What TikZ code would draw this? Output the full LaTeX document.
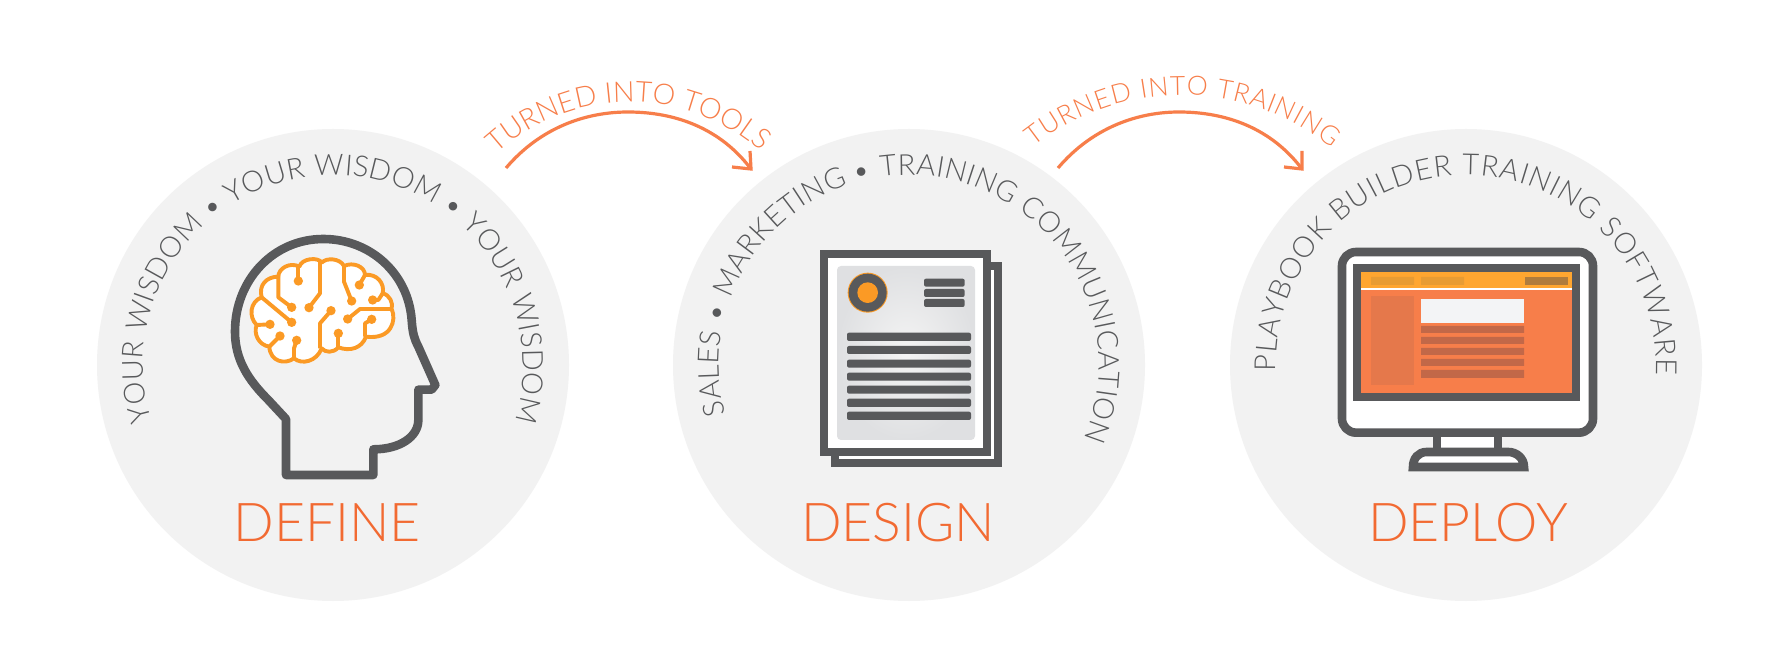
\documentclass[tikz,border=0pt]{standalone}
\usepackage{fontspec}
\usetikzlibrary{decorations.text}
\setmainfont{Lato Light}
\definecolor{dk}{HTML}{58595B}
\definecolor{pale}{HTML}{F2F2F2}
\definecolor{brainc}{HTML}{FB9A25}
\definecolor{arrowc}{HTML}{F77E4A}
\definecolor{titlec}{HTML}{F26A32}
\definecolor{panelin}{HTML}{F4F4F4}
\definecolor{panelout}{HTML}{DFE0E2}
\definecolor{topbar}{HTML}{FFA630}
\definecolor{topbtn}{HTML}{E89C33}
\definecolor{topdark}{HTML}{B07C3C}
\definecolor{sidep}{HTML}{E5784B}
\definecolor{whitep}{HTML}{F3F4F6}
\definecolor{rowc}{HTML}{C26848}
\tikzset{
  disc/.style={circle,fill=pale,minimum size=472pt,inner sep=0pt},
  title/.style={text=titlec,font=\fontsize{53.5}{54}\selectfont,inner sep=0pt},
  flow/.style={draw=arrowc,line width=3.2pt},
  headline/.style={draw=dk,line width=8.6pt,line join=round},
  trace/.style={draw=brainc,line width=3.9pt,line join=round},
}
\newcommand{\arctext}[8]{% cx cy r a1 a2 size colour text
  \path[decorate,decoration={text along path,text align={fit to path},
    text={|\fontsize{#6}{#6}\selectfont\color{#7}|#8}}]
    ({#1+#3*cos(#4)},{654-#2+#3*sin(#4)}) arc[start angle=#4,end angle=#5,radius=#3];}
\newcommand{\brect}[4]{\fill[dk,rounded corners=2pt] (#1,#2-1) rectangle (#3,#4+1);}
\newcommand{\dotat}[2]{\fill[brainc] (#1,#2) circle[radius=14];}
\begin{document}
\begin{tikzpicture}[x=1pt,y=1pt]
\useasboundingbox (0,0) rectangle (1788,654);
\fill[white] (0,0) rectangle (1788,654);
\node[disc] (define) at (333,289) {};
\node[disc] (design) at (909,289) {};
\node[disc] (deploy) at (1466,289) {};
\node[title] (t1) at (327,131) {DEFINE};
\node[title] (t2) at (898,131) {DESIGN};
\node[title] (t3) at (1468,131) {DEPLOY};
% circular text
\arctext{333}{365}{190}{197}{-17}{29}{dk}{YOUR WISDOM • YOUR WISDOM • YOUR WISDOM}
\arctext{909}{365}{190}{195}{-23}{29}{dk}{SALES • MARKETING • TRAINING COMMUNICATION}
\arctext{1466}{365}{190}{182}{-3}{29}{dk}{PLAYBOOK BUILDER TRAINING SOFTWARE}
\arctext{630}{299}{197}{132.5}{49}{28.5}{arrowc}{TURNED INTO TOOLS}
\arctext{1182}{333}{238}{128.5}{51}{26.5}{arrowc}{TURNED INTO TRAINING}
% arrows
\coordinate (a1s) at (506,486);
\coordinate (a1e) at (751,485);
\coordinate (a2s) at (1058,486);
\coordinate (a2e) at (1302,485);
\draw[flow] (a1s) .. controls (540,526) and (585,542) .. (628,542) .. controls (675,542) and (720,526) .. (a1e);
\draw[flow,line cap=butt] (732,487) -- (a1e) -- (750,503);
\draw[flow] (a2s) .. controls (1092,526) and (1137,542) .. (1179,542) .. controls (1226,542) and (1271,526) .. (a2e);
\draw[flow,line cap=butt] (1284,487) -- (a2e) -- (1302,503);
% head
\begin{scope}[shift={(210pt,434pt)},x=.33333pt,y=-.33333pt]
\draw[headline] (228,765) -- (228,597) -- (175,540) .. controls (115,480) and (75,420) .. (75,335)
  .. controls (75,180) and (190,57) .. (340,57) .. controls (480,57) and (595,160) .. (605,300)
  .. controls (608,340) and (612,355) .. (625,380) -- (676,495) -- (665,509) -- (625,509) -- (625,600)
  .. controls (625,650) and (570,688) .. (490,688) -- (490,765) -- cycle;
\filldraw[trace,fill=white] (155,232) .. controls (145,195) and (170,170) .. (205,170)
  .. controls (205,145) and (240,125) .. (268,140)
  .. controls (275,115) and (325,110) .. (335,128)
  .. controls (350,112) and (390,115) .. (402,138)
  .. controls (430,125) and (465,140) .. (465,165)
  .. controls (500,160) and (525,190) .. (518,220)
  .. controls (540,225) and (550,250) .. (545,267)
  .. controls (560,300) and (545,360) .. (468,350)
  .. controls (455,385) and (420,395) .. (385,382)
  .. controls (370,400) and (345,398) .. (335,385)
  .. controls (320,425) and (275,435) .. (252,415)
  .. controls (225,435) and (180,425) .. (178,380)
  .. controls (145,375) and (130,340) .. (140,315)
  .. controls (115,290) and (120,245) .. (155,232) -- cycle;
\draw[trace] (205,170) -- (205,232) -- (245,262);
\draw[trace] (265,140) -- (265,183);
\draw[trace] (330,125) -- (330,220) -- (297,263);
\draw[trace] (402,140) -- (402,185) -- (425,243);
\draw[trace] (465,165) -- (448,195);
\draw[trace] (518,220) -- (505,240) -- (488,240);
\draw[trace] (155,232) -- (245,307);
\draw[trace] (545,267) -- (450,267) -- (413,297);
\draw[trace] (363,272) -- (330,310) -- (330,385);
\draw[trace] (140,315) -- (180,313);
\draw[trace] (178,380) -- (210,348);
\draw[trace] (252,415) -- (252,385) -- (260,361);
\draw[trace] (385,340) -- (385,382);
\draw[trace] (485,298) -- (465,310) -- (465,350);
\dotat{245}{262}\dotat{265}{183}\dotat{297}{263}\dotat{425}{243}\dotat{448}{195}\dotat{488}{240}
\dotat{245}{307}\dotat{413}{297}\dotat{363}{272}\dotat{180}{313}\dotat{210}{348}\dotat{260}{361}
\dotat{385}{340}\dotat{485}{298}
\end{scope}
% document
\begin{scope}[shift={(800pt,414pt)},x=.33333pt,y=-.33333pt]
\draw[headline,line join=miter,fill=white] (105,78) rectangle (594,669);
\draw[headline,line join=miter,fill=white] (72,42) rectangle (561,636);
\shade[inner color=panelin,outer color=panelout,rounded corners=4pt] (111,78) rectangle (525,600);
\fill[brainc] (203,158) circle[radius=60];
\fill[dk] (203,158) circle[radius=57];
\fill[brainc] (203,158) circle[radius=31];
\brect{372}{117}{494}{139}\brect{372}{148}{494}{170}\brect{372}{178}{494}{200}
\brect{141}{279}{513}{302}\brect{141}{319}{513}{341}\brect{141}{360}{513}{382}
\brect{141}{399}{513}{421}\brect{141}{438}{513}{460}\brect{141}{477}{513}{500}\brect{141}{516}{513}{539}
\end{scope}
% monitor
\begin{scope}[shift={(1320pt,419pt)},x=.33333pt,y=-.33333pt]
\draw[headline,fill=white] (351,590) rectangle (534,651);
\filldraw[headline,fill=white,line join=miter] (279,696) .. controls (279,670) and (295,651) .. (320,651) -- (565,651) .. controls (590,651) and (612,670) .. (612,696) -- cycle;
\draw[headline,fill=white,rounded corners=14pt] (66,51) rectangle (819,593);
\fill[dk] (99,87) rectangle (780,498);
\fill[arrowc] (123,111) rectangle (756,474);
\fill[topbar] (123,111) rectangle (756,159);
\fill[white] (123,159) rectangle (756,164);
\fill[topbtn] (153,126) rectangle (282,150) (303,126) rectangle (432,150);
\fill[topdark] (615,126) rectangle (744,150);
\fill[sidep] (153,183) rectangle (282,450);
\fill[whitep] (303,192) rectangle (612,264);
\fill[rowc] (303,273) rectangle (612,294) (303,306) rectangle (612,327) (303,339) rectangle (612,360) (303,372) rectangle (612,393) (303,405) rectangle (612,429);
\end{scope}
\end{tikzpicture}
\end{document}
